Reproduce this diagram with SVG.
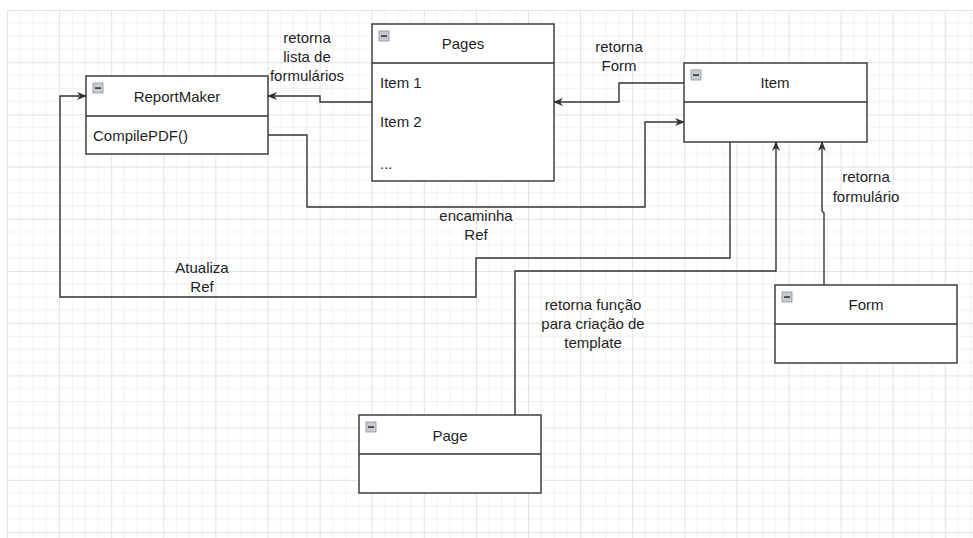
<svg xmlns="http://www.w3.org/2000/svg" width="973" height="538" viewBox="0 0 973 538">
<defs>
<pattern id="grid" x="7" y="10" width="52.1" height="52.2" patternUnits="userSpaceOnUse">
<path d="M13.025 0V52.2M26.05 0V52.2M39.075 0V52.2M0 13.05H52.1M0 26.1H52.1M0 39.15H52.1" stroke="#f1f1f1" stroke-width="1" fill="none"/>
<path d="M0.5 0V52.2M0 0.5H52.1" stroke="#e2e2e2" stroke-width="1" fill="none"/>
</pattern>
<marker id="arr" viewBox="0 0 10 8" refX="9" refY="4" markerWidth="10" markerHeight="8" markerUnits="userSpaceOnUse" orient="auto">
<path d="M0,0 L10,4 L0,8 L3,4 Z" fill="#333"/>
</marker>
<g id="minus">
<rect x="0" y="0" width="10" height="10" fill="#c8ccd2" stroke="#8a9099" stroke-width="0.8"/>
<rect x="2" y="4.3" width="6" height="1.6" fill="#333"/>
</g>
</defs>
<style>
.box{fill:#fff;stroke:#333;stroke-width:1.4}
.div{stroke:#333;stroke-width:1.4}
.t{font-family:"Liberation Sans",Arial,sans-serif;font-size:15px;fill:#1e1e1e}
.c{text-anchor:middle}
.ln{fill:none;stroke:#333;stroke-width:1.4}
</style>
<rect width="973" height="538" fill="#fff"/>
<rect x="7" y="10" width="966" height="528" fill="url(#grid)"/>

<g id="connectors">
<path class="ln" d="M372,102 L320,102 L320,96 L268,96" marker-end="url(#arr)"/>
<path class="ln" d="M684,83 L619,83 L619,102 L554,102" marker-end="url(#arr)"/>
<path class="ln" d="M268,135 L307,135 L307,207 L645,207 L645,122 L684,122" marker-end="url(#arr)"/>
<path class="ln" d="M730,142 L730,258 L476,258 L476,297 L60,297 L60,96 L86,96" marker-end="url(#arr)"/>
<path class="ln" d="M515,415 L515,271 L776,271 L776,142" marker-end="url(#arr)"/>
<path class="ln" d="M824,285 L824,213 L822,211 L822,142" marker-end="url(#arr)"/>
<text class="t c" x="307" y="43">retorna</text>
<text class="t c" x="307" y="62">lista de</text>
<text class="t c" x="307" y="81">formulários</text>
<text class="t c" x="619" y="52">retorna</text>
<text class="t c" x="619" y="71">Form</text>
<text class="t c" x="866" y="182">retorna</text>
<text class="t c" x="866" y="202">formulário</text>
<text class="t c" x="476" y="221">encaminha</text>
<text class="t c" x="476" y="240">Ref</text>
<text class="t c" x="202" y="273">Atualiza</text>
<text class="t c" x="202" y="292">Ref</text>
<text class="t c" x="593" y="310">retorna função</text>
<text class="t c" x="593" y="329">para criação de</text>
<text class="t c" x="593" y="348">template</text>
</g>

<g id="ReportMaker">
<rect class="box" x="86" y="76" width="182" height="78"/>
<line class="div" x1="86" y1="116" x2="268" y2="116"/>
<use href="#minus" x="93" y="83"/>
<text class="t c" x="177" y="102">ReportMaker</text>
<text class="t" x="93" y="141">CompilePDF()</text>
</g>

<g id="Pages">
<rect class="box" x="372" y="24" width="182" height="157"/>
<line class="div" x1="372" y1="63" x2="554" y2="63"/>
<use href="#minus" x="379" y="31"/>
<text class="t c" x="463" y="49">Pages</text>
<text class="t" x="380" y="88">Item 1</text>
<text class="t" x="380" y="127">Item 2</text>
<text class="t" x="380" y="169">...</text>
</g>

<g id="Item">
<rect class="box" x="684" y="63" width="183" height="79"/>
<line class="div" x1="684" y1="102" x2="867" y2="102"/>
<use href="#minus" x="691" y="70"/>
<text class="t c" x="775" y="88">Item</text>
</g>

<g id="Form">
<rect class="box" x="775" y="285" width="182" height="78"/>
<line class="div" x1="775" y1="324" x2="957" y2="324"/>
<use href="#minus" x="782" y="292"/>
<text class="t c" x="866" y="310">Form</text>
</g>

<g id="Page">
<rect class="box" x="359" y="415" width="182" height="78"/>
<line class="div" x1="359" y1="454" x2="541" y2="454"/>
<use href="#minus" x="366" y="422"/>
<text class="t c" x="450" y="441">Page</text>
</g>
</svg>
